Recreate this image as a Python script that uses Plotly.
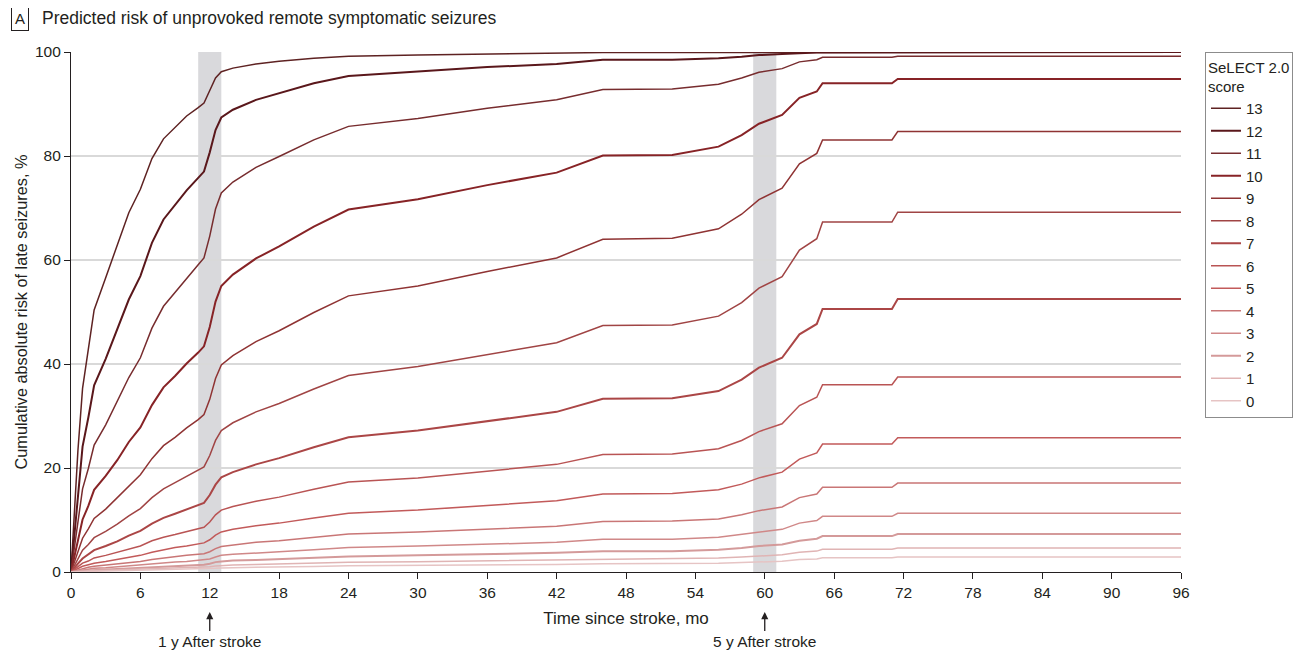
import plotly.graph_objects as go

# Time since stroke (months)
months = [0, 0.3, 0.6, 1, 1.5, 2, 3, 4, 5, 6, 7, 8, 9, 10, 11, 11.5, 12, 12.5, 13, 14, 16, 18, 21,
          24, 30, 36, 42, 46, 52, 56, 58, 59.5, 61.5, 63, 64.5, 65, 71, 71.5, 96]

# Cumulative absolute risk of late seizures (%) by SeLECT 2.0 score
score_13 = [0, 11.4, 23.4, 35.3, 42.7, 50.4, 56.6, 62.9, 69.1, 73.6, 79.5, 83.3, 85.6, 87.7, 89.3, 90.2, 92.6, 95.0, 96.2, 96.9, 97.7, 98.2, 98.8,
            99.2, 99.4, 99.6, 99.7, 99.9, 99.9, 99.9, 99.9, 100, 100, 100, 100, 100, 100, 100, 100]
score_12 = [0, 7.4, 15.5, 24.1, 29.7, 35.9, 41.0, 46.6, 52.4, 56.9, 63.3, 67.8, 70.6, 73.4, 75.8, 77.0, 80.7, 85.0, 87.4, 88.9, 90.8, 92.1, 94.0,
            95.4, 96.2, 97.1, 97.7, 98.5, 98.5, 98.8, 99.1, 99.4, 99.6, 99.8, 99.9, 99.9, 99.9, 100, 100]
score_11 = [0, 4.7, 10.1, 16.0, 19.9, 24.4, 28.3, 32.7, 37.4, 41.2, 46.9, 51.1, 53.8, 56.6, 59.1, 60.4, 64.6, 69.8, 72.9, 75.0, 77.8, 79.9, 83.1,
            85.7, 87.2, 89.2, 90.8, 92.8, 92.9, 93.8, 95.0, 96.1, 96.8, 98.1, 98.5, 99.0, 99.0, 99.2, 99.2]
score_10 = [0, 2.9, 6.3, 10.1, 12.7, 15.8, 18.5, 21.5, 25.0, 27.8, 32.1, 35.5, 37.7, 40.1, 42.2, 43.4, 47.1, 52.0, 55.0, 57.2, 60.3, 62.6, 66.4,
            69.7, 71.7, 74.4, 76.8, 80.1, 80.2, 81.8, 84.0, 86.2, 87.9, 91.2, 92.4, 94.0, 94.0, 94.8, 94.8]
score_9 = [0, 1.9, 4.0, 6.5, 8.3, 10.3, 12.1, 14.3, 16.6, 18.7, 21.8, 24.3, 25.9, 27.7, 29.3, 30.3, 33.2, 37.2, 39.8, 41.6, 44.3, 46.4, 49.9,
           53.1, 55.0, 57.8, 60.4, 64.0, 64.2, 66.0, 68.8, 71.6, 73.8, 78.5, 80.5, 83.1, 83.1, 84.7, 84.7]
score_8 = [0, 1.2, 2.6, 4.2, 5.3, 6.6, 7.8, 9.2, 10.8, 12.2, 14.3, 16.0, 17.2, 18.4, 19.6, 20.2, 22.4, 25.3, 27.2, 28.7, 30.8, 32.4, 35.2,
           37.8, 39.5, 41.8, 44.1, 47.4, 47.5, 49.2, 51.8, 54.6, 56.8, 61.9, 64.1, 67.3, 67.3, 69.2, 69.2]
score_7 = [0, 0.7, 1.6, 2.6, 3.4, 4.2, 5.0, 5.9, 7.0, 7.9, 9.3, 10.4, 11.2, 12.1, 12.9, 13.3, 14.8, 16.8, 18.2, 19.2, 20.7, 21.9, 24.0,
           25.9, 27.2, 29.0, 30.8, 33.3, 33.4, 34.8, 37.0, 39.3, 41.2, 45.7, 47.7, 50.6, 50.6, 52.5, 52.5]
score_6 = [0, 0.5, 1.0, 1.7, 2.1, 2.7, 3.2, 3.8, 4.5, 5.0, 6.0, 6.7, 7.2, 7.8, 8.3, 8.6, 9.6, 11.0, 11.9, 12.6, 13.6, 14.4, 15.9,
           17.3, 18.1, 19.4, 20.7, 22.6, 22.7, 23.7, 25.3, 27.0, 28.5, 32.0, 33.6, 36.0, 36.0, 37.5, 37.5]
score_5 = [0, 0.3, 0.7, 1.1, 1.4, 1.7, 2.0, 2.4, 2.9, 3.2, 3.8, 4.3, 4.7, 5.0, 5.4, 5.6, 6.2, 7.1, 7.7, 8.2, 8.9, 9.4, 10.4,
           11.3, 11.9, 12.8, 13.7, 15.0, 15.1, 15.8, 16.9, 18.1, 19.2, 21.7, 22.9, 24.6, 24.6, 25.8, 25.8]
score_4 = [0, 0.2, 0.4, 0.7, 0.9, 1.1, 1.3, 1.5, 1.8, 2.0, 2.4, 2.7, 3.0, 3.2, 3.4, 3.5, 3.9, 4.5, 4.9, 5.2, 5.7, 6.0, 6.7,
           7.3, 7.7, 8.3, 8.8, 9.7, 9.8, 10.2, 11.0, 11.8, 12.5, 14.3, 15.0, 16.3, 16.3, 17.1, 17.1]
score_3 = [0, 0.1, 0.3, 0.4, 0.5, 0.7, 0.8, 1.0, 1.2, 1.3, 1.6, 1.8, 1.9, 2.0, 2.2, 2.3, 2.5, 2.9, 3.2, 3.4, 3.7, 3.9, 4.3,
           4.7, 5.0, 5.4, 5.7, 6.3, 6.3, 6.7, 7.2, 7.7, 8.2, 9.4, 9.9, 10.7, 10.7, 11.3, 11.3]
score_2 = [0, 0.1, 0.2, 0.3, 0.3, 0.4, 0.5, 0.6, 0.7, 0.8, 1.0, 1.1, 1.2, 1.3, 1.4, 1.4, 1.6, 1.9, 2.0, 2.2, 2.3, 2.5, 2.8,
           3.0, 3.2, 3.4, 3.7, 4.0, 4.0, 4.3, 4.6, 5.0, 5.3, 6.0, 6.4, 6.9, 6.9, 7.3, 7.3]
score_1 = [0, 0.05, 0.1, 0.17, 0.22, 0.27, 0.32, 0.39, 0.46, 0.52, 0.62, 0.70, 0.75, 0.81, 0.87, 0.90, 1.01, 1.16, 1.26, 1.34, 1.46, 1.55, 1.72,
           1.88, 1.99, 2.14, 2.30, 2.53, 2.54, 2.67, 2.88, 3.11, 3.30, 3.79, 4.02, 4.37, 4.37, 4.6, 4.6]
score_0 = [0, 0.03, 0.06, 0.11, 0.14, 0.17, 0.20, 0.24, 0.29, 0.32, 0.38, 0.43, 0.47, 0.51, 0.54, 0.56, 0.63, 0.73, 0.79, 0.84, 0.92, 0.97, 1.08,
           1.18, 1.25, 1.34, 1.44, 1.59, 1.60, 1.68, 1.81, 1.95, 2.07, 2.38, 2.52, 2.74, 2.74, 2.9, 2.9]

score_labels = ["13", "12", "11", "10", "9", "8", "7", "6", "5", "4", "3", "2", "1", "0"]
score_series = [score_13, score_12, score_11, score_10, score_9, score_8, score_7,
                score_6, score_5, score_4, score_3, score_2, score_1, score_0]
line_colors = ["#5e2222", "#5a171b", "#772c2e", "#872326", "#8f3333", "#a04444", "#ab4646",
               "#b95454", "#c25a5a", "#c97676", "#d08888", "#d49a9a", "#e0b4b4", "#e6c4c4"]
line_widths = [1.5, 2.0, 1.5, 2.0, 1.5, 1.5, 2.0, 1.5, 1.5, 1.5, 1.5, 2.0, 1.5, 1.5]

x_ticks = list(range(0, 97, 6))
y_ticks = [0, 20, 40, 60, 80, 100]
bands = [(11, 13), (59, 61)]

FONT = "Liberation Sans, Arial, sans-serif"
TXT = "#231f20"

fig = go.Figure()

for lab, ys, col, w in zip(score_labels, score_series, line_colors, line_widths):
    fig.add_trace(go.Scatter(
        x=months, y=ys, mode="lines", name=lab,
        line=dict(color=col, width=w), hoverinfo="skip",
    ))

for x0, x1 in bands:
    fig.add_shape(type="rect", xref="x", yref="y", x0=x0, x1=x1, y0=0, y1=100,
                  fillcolor="#d9d9dc", line=dict(width=0), layer="below")

# the page body adds an 8 px margin, so the figure is 16 px smaller than the window
fig.update_layout(
    width=1285, height=643,
    margin=dict(l=63, r=112, t=44, b=79, autoexpand=False),
    paper_bgcolor="white", plot_bgcolor="white",
    font=dict(family=FONT, size=15, color=TXT),
    showlegend=True,
    legend=dict(
        title=dict(text="SeLECT 2.0<br>score", font=dict(size=15, color=TXT)),
        x=1.0216, y=1.0, xanchor="left", yanchor="top",
        bordercolor="#8c8c8c", borderwidth=1, bgcolor="white",
        font=dict(size=15, color=TXT), itemwidth=30, tracegroupgap=0,
    ),
    xaxis=dict(
        range=[0, 96], tickvals=x_ticks, ticktext=[str(v) for v in x_ticks],
        showgrid=False, zeroline=False, showline=True, linecolor="#231f20", linewidth=1.2,
        ticks="outside", ticklen=6, tickcolor="#231f20", tickwidth=1.2,
        tickfont=dict(size=15.5, color=TXT),
        title=dict(text="Time since stroke, mo", font=dict(size=17, color=TXT), standoff=12),
    ),
    yaxis=dict(
        range=[0, 100], tickvals=y_ticks, ticktext=[str(v) for v in y_ticks],
        showgrid=True, gridcolor="#d9d9d9", gridwidth=2,
        zeroline=False, showline=True, linecolor="#231f20", linewidth=1.2,
        ticks="outside", ticklen=6, tickcolor="#231f20", tickwidth=1.2,
        tickfont=dict(size=15.5, color=TXT),
        title=dict(text="Cumulative absolute risk of late seizures, %", font=dict(size=16.3, color=TXT), standoff=3),
    ),
)

# Panel label and title
fig.add_annotation(xref="paper", yref="paper", x=-0.054, y=1.0, yshift=34,
                   text="A", showarrow=False, xanchor="left", yanchor="middle",
                   font=dict(size=15, color=TXT), bordercolor="#231f20", borderwidth=1,
                   borderpad=3, bgcolor="white")
fig.add_annotation(xref="paper", yref="paper", x=-0.028, y=1.0, yshift=34,
                   text="Predicted risk of unprovoked remote symptomatic seizures", showarrow=False,
                   xanchor="left", yanchor="middle", font=dict(size=17.5, color=TXT))

# Arrows under the axis
for xv, txt in [(12, "1 y After stroke"), (60, "5 y After stroke")]:
    fig.add_annotation(xref="x", yref="paper", x=xv, y=-0.077, text=txt,
                       showarrow=True, arrowhead=2, arrowsize=1.1, arrowwidth=1.3,
                       arrowcolor="#231f20", ax=0, ay=29, font=dict(size=15.5, color=TXT))

fig.write_html("out.html")
